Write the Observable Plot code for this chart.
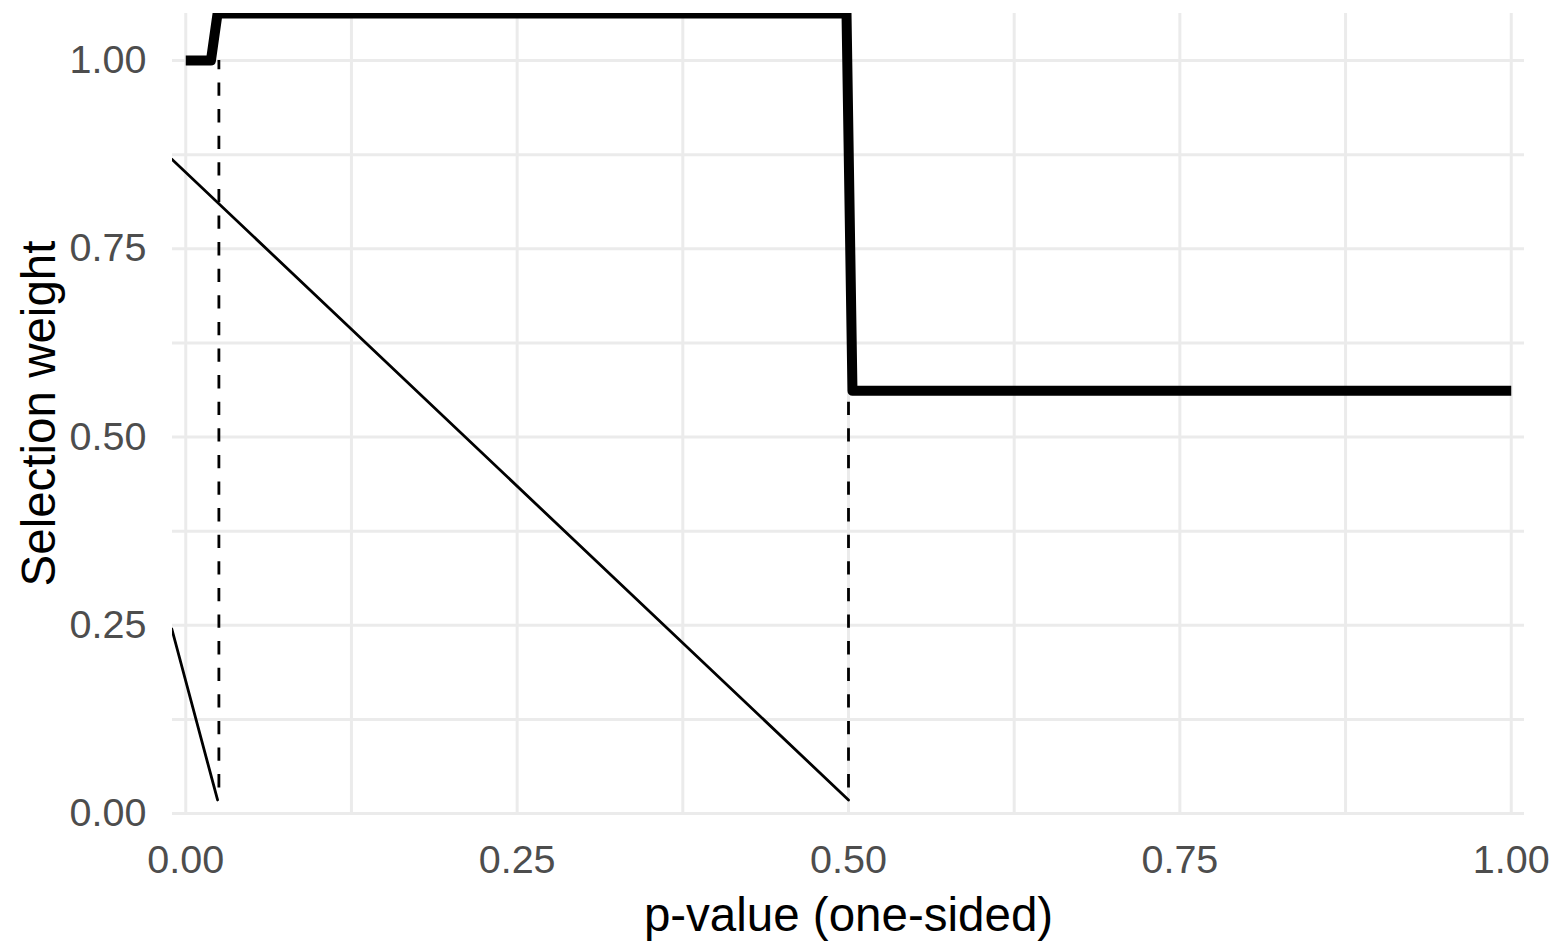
<!DOCTYPE html>
<html>
<head>
<meta charset="utf-8">
<script src="https://cdn.jsdelivr.net/npm/d3@7"></script>
<script src="https://cdn.jsdelivr.net/npm/@observablehq/plot@0.6"></script>
<style>
  html, body { margin: 0; padding: 0; background: #ffffff; }
  #chart { width: 1552px; height: 942px; }
</style>
</head>
<body>
<div id="chart"></div>
<script>
// Estimated selection weight function (thick step line)
const stepX = [0, 0.019, 0.024, 0.4985, 0.503, 1];
const stepY = [1, 1, 1.0625, 1.0625, 0.5613, 0.5613];

// Thin diagonal lines
const line1X = [-0.0105, 0.5];
const line1Y = [0.869, 0.018];
const line2X = [-0.0105, 0.024];
const line2Y = [0.245, 0.018];

// Dashed cutpoint lines
const cutX = [0.025, 0.5];
const cutBottom = [0.034, 0.034];
const cutTop = [1.0, 0.5613];

// Ticks
const majorTicks = [0, 0.25, 0.5, 0.75, 1];
const minorTicks = [0.125, 0.375, 0.625, 0.875];

const xTitle = "p-value (one-sided)";
const yTitle = "Selection weight";

const stepData = stepX.map((x, i) => ({x, y: stepY[i]}));
const line1Data = line1X.map((x, i) => ({x, y: line1Y[i]}));
const line2Data = line2X.map((x, i) => ({x, y: line2Y[i]}));
const cutData = cutX.map((x, i) => ({x, y1: cutBottom[i], y2: cutTop[i]}));

const fmt = d3.format(".2f");

const chart = Plot.plot({
  width: 1552,
  height: 942,
  marginLeft: 172,
  marginRight: 28,
  marginTop: 13,
  marginBottom: 129,
  style: {fontFamily: "'Liberation Sans', Arial, Helvetica, sans-serif", background: "#ffffff", overflow: "visible"},
  x: {domain: [-0.01, 1.01]},
  y: {domain: [0, 1.0625]},
  marks: [
    Plot.gridX([...minorTicks, ...majorTicks], {stroke: "#EBEBEB", strokeOpacity: 1, strokeWidth: 3}),
    Plot.gridY([...minorTicks, ...majorTicks], {stroke: "#EBEBEB", strokeOpacity: 1, strokeWidth: 3}),
    Plot.axisX(majorTicks, {tickSize: 0, tickPadding: 31, tickFormat: fmt, fontSize: 39.5, fill: "#4D4D4D", label: null}),
    Plot.axisY(majorTicks, {tickSize: 0, tickPadding: 26, tickFormat: fmt, fontSize: 39.5, fill: "#4D4D4D", label: null}),
    Plot.ruleX(cutData, {x: "x", y1: "y1", y2: "y2", stroke: "black", strokeWidth: 2.8, strokeDasharray: "13.3,13.3"}),
    Plot.line(line1Data, {x: "x", y: "y", stroke: "black", strokeWidth: 2.8, clip: true}),
    Plot.line(line2Data, {x: "x", y: "y", stroke: "black", strokeWidth: 2.8, clip: true}),
    Plot.line(stepData, {x: "x", y: "y", stroke: "black", strokeWidth: 10, strokeLinejoin: "round", strokeLinecap: "butt", clip: true}),
    Plot.text([xTitle], {frameAnchor: "bottom", dy: 102, fontSize: 47.5, fill: "black", lineAnchor: "middle", textAnchor: "middle"}),
    Plot.text([yTitle], {frameAnchor: "left", dx: -133, rotate: -90, fontSize: 47.5, fill: "black", lineAnchor: "middle", textAnchor: "middle"})
  ]
});

document.getElementById("chart").appendChild(chart);
</script>
</body>
</html>
